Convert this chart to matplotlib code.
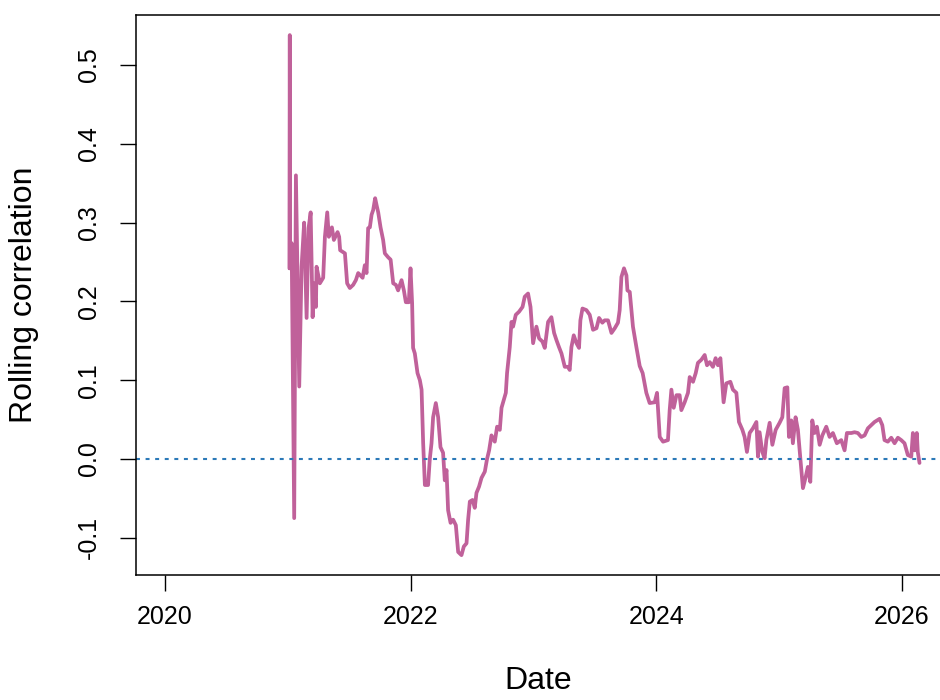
import matplotlib
matplotlib.use("Agg")
import matplotlib.pyplot as plt

plt.rcParams['font.family'] = ['Liberation Sans', 'DejaVu Sans']

# rolling correlation, dates as decimal years
years = [
    2021.013, 2021.016, 2021.019, 2021.027, 2021.031, 2021.052, 2021.066, 2021.093,
    2021.112, 2021.133, 2021.153, 2021.169, 2021.186, 2021.202, 2021.212, 2021.229,
    2021.234, 2021.261, 2021.288, 2021.302, 2021.321, 2021.334, 2021.359, 2021.375,
    2021.405, 2021.418, 2021.426, 2021.465, 2021.483, 2021.505, 2021.532, 2021.554,
    2021.573, 2021.609, 2021.627, 2021.641, 2021.654, 2021.668, 2021.682, 2021.695,
    2021.711, 2021.723, 2021.736, 2021.755, 2021.776, 2021.790, 2021.817, 2021.837,
    2021.858, 2021.880, 2021.898, 2021.926, 2021.945, 2021.961, 2021.985, 2021.999,
    2022.012, 2022.020, 2022.034, 2022.056, 2022.075, 2022.089, 2022.102, 2022.116,
    2022.142, 2022.156, 2022.170, 2022.183, 2022.205, 2022.224, 2022.243, 2022.264,
    2022.278, 2022.292, 2022.305, 2022.325, 2022.346, 2022.368, 2022.387, 2022.414,
    2022.433, 2022.455, 2022.468, 2022.482, 2022.504, 2022.522, 2022.536, 2022.557,
    2022.577, 2022.604, 2022.622, 2022.639, 2022.658, 2022.685, 2022.704, 2022.726,
    2022.740, 2022.758, 2022.775, 2022.785, 2022.807, 2022.821, 2022.834, 2022.856,
    2022.883, 2022.911, 2022.929, 2022.956, 2022.976, 2022.997, 2023.024, 2023.046,
    2023.073, 2023.092, 2023.119, 2023.146, 2023.168, 2023.187, 2023.208, 2023.228,
    2023.255, 2023.282, 2023.295, 2023.309, 2023.328, 2023.350, 2023.371, 2023.382,
    2023.399, 2023.431, 2023.458, 2023.485, 2023.513, 2023.534, 2023.561, 2023.580,
    2023.607, 2023.635, 2023.662, 2023.688, 2023.702, 2023.716, 2023.737, 2023.757,
    2023.765, 2023.784, 2023.810, 2023.838, 2023.865, 2023.889, 2023.919, 2023.946,
    2023.987, 2024.006, 2024.028, 2024.055, 2024.095, 2024.109, 2024.123, 2024.142,
    2024.164, 2024.190, 2024.204, 2024.231, 2024.258, 2024.272, 2024.299, 2024.321,
    2024.339, 2024.367, 2024.394, 2024.413, 2024.435, 2024.461, 2024.483, 2024.502,
    2024.522, 2024.548, 2024.570, 2024.603, 2024.624, 2024.652, 2024.673, 2024.701,
    2024.719, 2024.738, 2024.760, 2024.787, 2024.815, 2024.828, 2024.841, 2024.863,
    2024.882, 2024.896, 2024.923, 2024.945, 2024.972, 2025.004, 2025.026, 2025.045,
    2025.067, 2025.080, 2025.099, 2025.112, 2025.134, 2025.153, 2025.167, 2025.181,
    2025.194, 2025.216, 2025.234, 2025.254, 2025.270, 2025.289, 2025.308, 2025.330,
    2025.352, 2025.384, 2025.411, 2025.438, 2025.470, 2025.506, 2025.533, 2025.552,
    2025.588, 2025.614, 2025.641, 2025.669, 2025.696, 2025.723, 2025.750, 2025.777,
    2025.818, 2025.840, 2025.858, 2025.885, 2025.913, 2025.940, 2025.967, 2025.994,
    2026.021, 2026.048, 2026.076, 2026.089, 2026.103, 2026.121, 2026.129, 2026.143,
]
values = [
    0.242, 0.538, 0.242, 0.242, 0.274, -0.075, 0.360, 0.092,
    0.244, 0.300, 0.179, 0.293, 0.313, 0.180, 0.223, 0.193,
    0.244, 0.223, 0.230, 0.282, 0.313, 0.282, 0.294, 0.278,
    0.288, 0.282, 0.265, 0.261, 0.223, 0.217, 0.221, 0.227,
    0.236, 0.230, 0.246, 0.236, 0.293, 0.294, 0.310, 0.316,
    0.331, 0.322, 0.313, 0.294, 0.278, 0.261, 0.256, 0.253,
    0.223, 0.221, 0.214, 0.227, 0.214, 0.199, 0.199, 0.242,
    0.198, 0.141, 0.134, 0.109, 0.100, 0.088, 0.020, -0.033,
    -0.033, 0.000, 0.020, 0.053, 0.071, 0.053, 0.015, 0.008,
    -0.027, -0.014, -0.065, -0.081, -0.077, -0.084, -0.118, -0.122,
    -0.111, -0.107, -0.077, -0.054, -0.052, -0.062, -0.043, -0.035,
    -0.024, -0.016, 0.000, 0.011, 0.030, 0.022, 0.041, 0.037,
    0.065, 0.075, 0.084, 0.109, 0.142, 0.174, 0.168, 0.183,
    0.187, 0.193, 0.206, 0.210, 0.193, 0.147, 0.168, 0.153,
    0.149, 0.141, 0.174, 0.180, 0.160, 0.151, 0.142, 0.134,
    0.117, 0.117, 0.113, 0.142, 0.157, 0.147, 0.141, 0.176,
    0.191, 0.189, 0.183, 0.164, 0.166, 0.179, 0.173, 0.176,
    0.176, 0.160, 0.166, 0.173, 0.189, 0.231, 0.242, 0.233,
    0.214, 0.212, 0.168, 0.142, 0.118, 0.109, 0.084, 0.071,
    0.072, 0.084, 0.028, 0.022, 0.024, 0.062, 0.088, 0.065,
    0.081, 0.081, 0.062, 0.072, 0.084, 0.104, 0.098, 0.109,
    0.122, 0.126, 0.132, 0.119, 0.123, 0.117, 0.128, 0.119,
    0.128, 0.072, 0.096, 0.098, 0.088, 0.084, 0.047, 0.037,
    0.028, 0.009, 0.033, 0.039, 0.047, 0.003, 0.034, 0.009,
    0.001, 0.024, 0.046, 0.018, 0.037, 0.046, 0.053, 0.090,
    0.091, 0.028, 0.049, 0.020, 0.053, 0.037, 0.011, -0.014,
    -0.037, -0.023, -0.010, -0.029, 0.049, 0.033, 0.041, 0.018,
    0.030, 0.041, 0.028, 0.033, 0.020, 0.024, 0.011, 0.033,
    0.033, 0.034, 0.033, 0.028, 0.030, 0.039, 0.043, 0.047,
    0.051, 0.043, 0.024, 0.022, 0.027, 0.020, 0.027, 0.024,
    0.020, 0.005, 0.003, 0.033, 0.011, 0.033, 0.009, -0.005,
]

x_ticks = [2020, 2022, 2024, 2026]
x_tick_labels = ["2020", "2022", "2024", "2026"]
y_ticks = [-0.1, 0.0, 0.1, 0.2, 0.3, 0.4, 0.5]
y_tick_labels = ["-0.1", "0.0", "0.1", "0.2", "0.3", "0.4", "0.5"]

fig = plt.figure(figsize=(9.4, 7), dpi=100)
ax = fig.add_axes([136 / 940, 125 / 700, 805 / 940, 560 / 700])

ax.plot(years, values, color="#C0619A", lw=2.7,
        solid_joinstyle="round", solid_capstyle="round")
ax.axhline(0, color="#2C79B8", lw=1.5, linestyle=(0, (1.9, 2.7)))

ax.set_xlim(2019.764, 2026.318)
ax.set_ylim(-0.1472, 0.5635)

ax.set_xticks(x_ticks)
ax.set_xticklabels(x_tick_labels)
ax.set_yticks(y_ticks)
ax.set_yticklabels(y_tick_labels, rotation=90, va="center")

ax.tick_params(axis="both", direction="out", length=11.5, width=1.0,
               labelsize=18, color="black")
ax.tick_params(axis="x", pad=10)
ax.tick_params(axis="y", pad=14)
for s in ax.spines.values():
    s.set_linewidth(1.1)

ax.set_xlabel("Date", fontsize=23)
ax.xaxis.set_label_coords(0.5, -0.19)
ax.xaxis.label.set_va("center")
ax.set_ylabel("Rolling correlation", fontsize=23)
ax.yaxis.set_label_coords(-0.139, 0.5)
ax.yaxis.label.set_va("center")

plt.savefig("out.png", dpi=100)
